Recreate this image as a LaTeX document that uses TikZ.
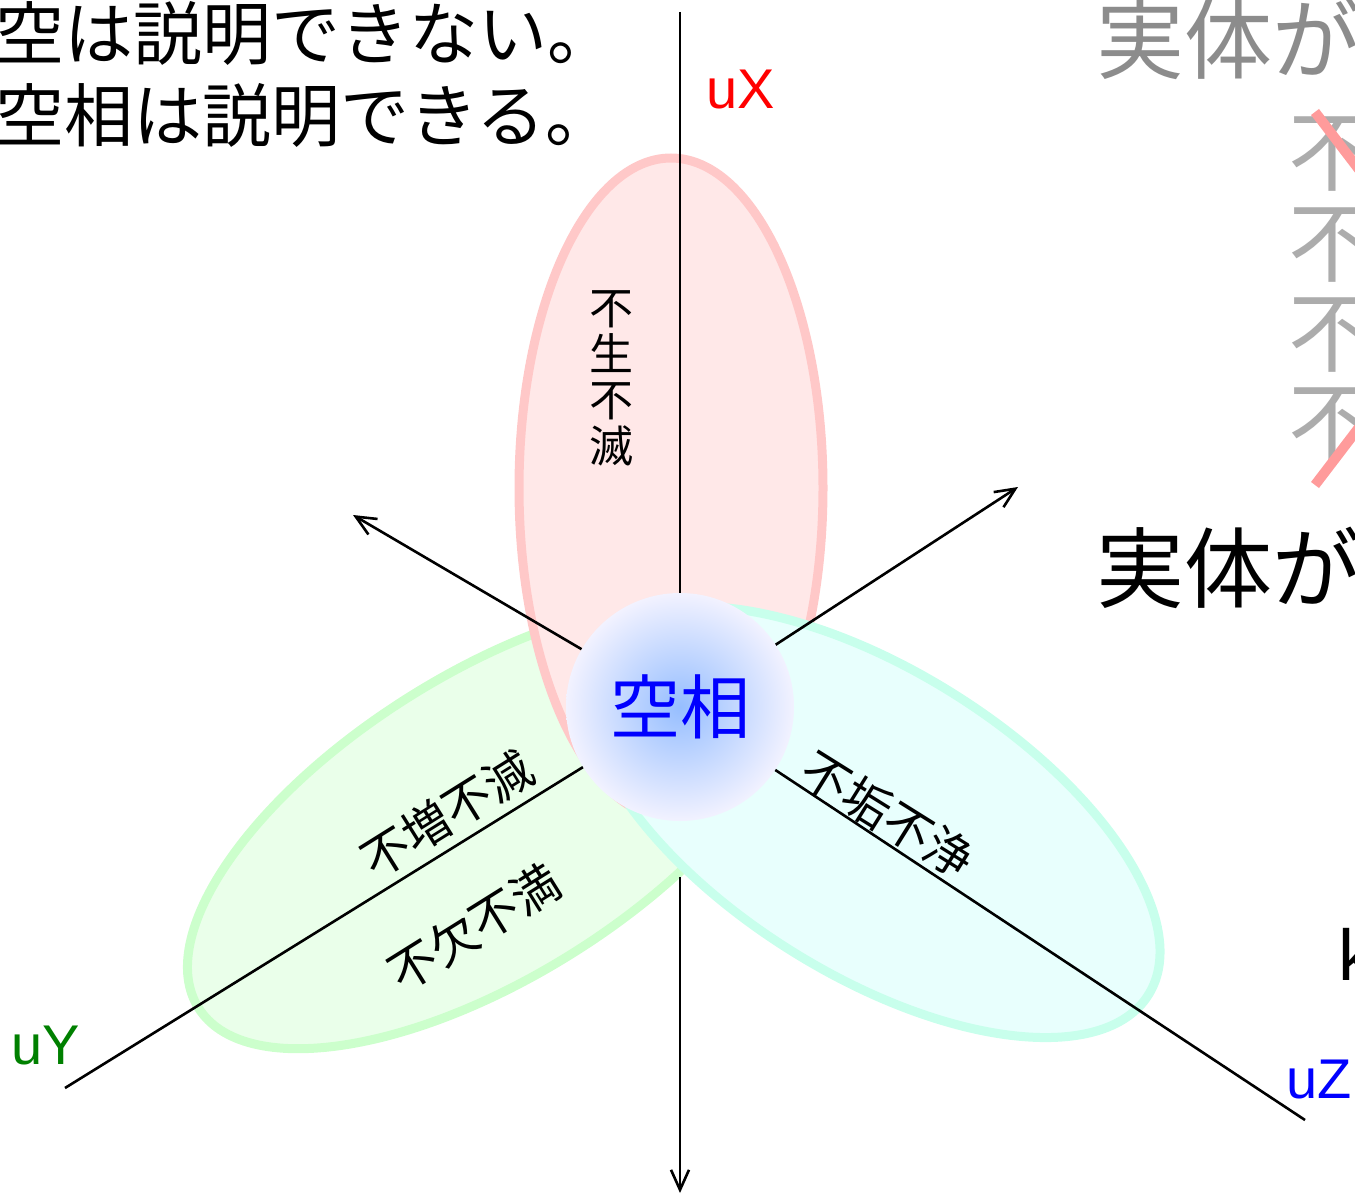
\documentclass[tikz,border=0pt]{standalone}
\usepackage{fontspec}
\usepackage{tikz}
\usetikzlibrary{arrows.meta,shapes,positioning}
\newfontfamily\jpfont{Noto Sans CJK JP}
\newfontfamily\latfont{Liberation Sans}
\definecolor{pinkline}{RGB}{255,200,200}
\definecolor{pinkfill}{RGB}{255,232,232}
\definecolor{greenline}{RGB}{204,255,204}
\definecolor{greenfill}{RGB}{234,255,234}
\definecolor{cyanline}{RGB}{200,255,236}
\definecolor{cyanfill}{RGB}{232,255,253}
\definecolor{darkgray}{RGB}{140,140,140}
\definecolor{lightgray}{RGB}{172,172,172}
\definecolor{crossred}{RGB}{255,155,155}
\definecolor{ygreen}{RGB}{0,128,0}

\begin{document}
\begin{tikzpicture}[x=1pt,y=-1pt,
    axis/.style={black, line width=2.6pt},
    arr/.style={axis, -{Straight Barb[length=20pt,width=18pt]}},
    petal/.style={line width=9pt},
    petaltext/.style={inner sep=0pt, font=\jpfont\fontsize{48}{50}\selectfont},
    axlabel/.style={inner sep=0pt, font=\latfont\fontsize{56}{60}\selectfont},
    bigjp/.style={inner sep=0pt, anchor=base west, font=\jpfont\fontsize{88}{90}\selectfont}]
            \useasboundingbox (0,0) rectangle (1355,1196);
            % petals
            \draw[petal, greenline, fill=greenfill, rotate around={32:(491,825)}] (491,825) ellipse [x radius=345, y radius=152];
            \draw[petal, pinkline, fill=pinkfill] (671,488) ellipse [x radius=152, y radius=330];
            \draw[petal, cyanline, fill=cyanfill, rotate around={-32:(872,822)}] (872,822) ellipse [x radius=326, y radius=152];
            % center
            \node[circle, minimum size=228, inner sep=0pt, inner color={rgb,255:red,150;green,190;blue,255}, outer color={rgb,255:red,242;green,242;blue,255}, text=blue, font=\jpfont\fontsize{70}{72}\selectfont] (kuso) at (680,707) {空相};
            % axes
            \coordinate (topX) at (680,12);
            \coordinate (tipUL) at (353,515);
            \coordinate (tipUR) at (1018,487);
            \coordinate (endY) at (65,1088);
            \coordinate (endZ) at (1305,1120);
            \coordinate (botS) at (680,877);
            \coordinate (botE) at (680,1193);
            \draw[axis] (topX) -- (kuso);
            \draw[arr] (kuso) -- (tipUL);
            \draw[arr] (kuso) -- (tipUR);
            \draw[axis] (kuso) -- (endY);
            \draw[axis] (kuso) -- (endZ);
            \draw[arr] (botS) -- (botE);
            \node[axlabel, red] (uX) at (741,90) {uX};
            \node[axlabel, ygreen] (uY) at (46,1045) {uY};
            \node[axlabel, blue, anchor=west] (uZ) at (1286,1079) {uZ};
            % petal texts
            \node[petaltext, align=center, font=\jpfont\fontsize{44}{46}\selectfont] (shometsu) at (611,378) {不\\生\\不\\滅};
            \node[petaltext, rotate=32] (zougen) at (447,814) {不増不減};
            \node[petaltext, rotate=32] (ketsuman) at (474,927) {不欠不満};
            \node[petaltext, rotate=-32] (kujou) at (888,815) {不垢不浄};
            % left texts
            \node[inner sep=0pt, anchor=base west, font=\jpfont\fontsize{69}{80}\selectfont] (line1) at (-5,60) {空は説明できない。};
            \node[inner sep=0pt, anchor=base west, font=\jpfont\fontsize{69}{80}\selectfont] (line2) at (-5,142) {空相は説明できる。};
            % right texts
            \node[bigjp, darkgray] (jittai1) at (1096,73) {実体が};
            \foreach \t [count=\i] in {不生不滅,不垢不浄,不増不減,不欠不満}
              \node[bigjp, lightgray] (row\i) at (1288,95+90*\i) {\t};
            \draw[crossred, line width=10pt] (1315,112) -- (1600,485);
            \draw[crossred, line width=10pt] (1315,485) -- (1600,112);
            \node[bigjp] (jittai2) at (1096,601) {実体が};
            \node[inner sep=0pt, anchor=base west, font=\latfont\fontsize{72}{74}\selectfont] (kk) at (1338,980) {k};
\end{tikzpicture}
\end{document}
